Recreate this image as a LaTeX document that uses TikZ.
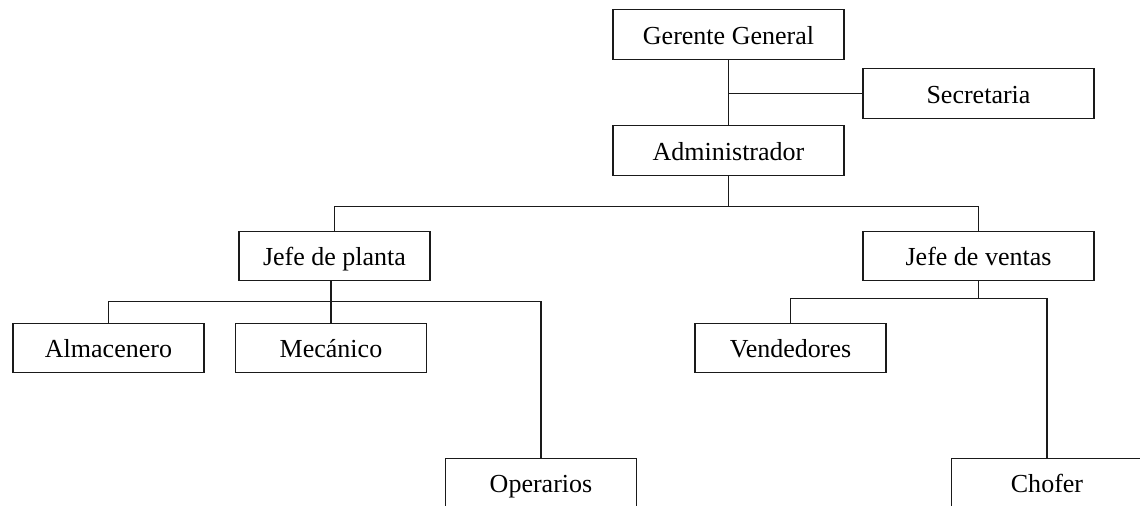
\documentclass[tikz,border=0pt]{standalone}
\usepackage{fontspec}
\setmainfont{Liberation Serif}
\usepackage{tikz}
\usepackage{xcolor}
\definecolor{linea}{HTML}{1A1A1A}

\begin{document}
\begin{tikzpicture}[x=0.02cm, y=-0.02cm, line width=0.7pt, draw=linea,
	puesto/.style={draw=linea, minimum height=0.99cm, inner sep=0pt,
		text height=13pt, text depth=2.1pt,
		font=\fontsize{14.8}{18}\selectfont},
	ancho/.style={puesto, minimum width=4.62cm},
	corto/.style={puesto, minimum width=3.82cm}]
	\useasboundingbox (0,0) rectangle (1140,505);
	\clip (0,0) rectangle (1140,505);
	% cargos
	\node[ancho] (gerente) at (728.5,34.5) {Gerente General};
	\node[ancho] (secretaria) at (978.5,93.5) {Secretaria};
	\node[ancho] (admin) at (728.5,150.5) {Administrador};
	\node[corto] (jplanta) at (334.5,256) {Jefe de planta};
	\node[ancho] (jventas) at (978.5,256) {Jefe de ventas};
	\node[corto] (almacen) at (108.5,348) {Almacenero};
	\node[corto] (mecanico) at (331,348) {Mec\'anico};
	\node[corto] (operarios) at (541,483) {Operarios};
	\node[corto] (vendedores) at (790.5,348) {Vendedores};
	\node[corto] (chofer) at (1047,483) {Chofer};
	% lineas
	\draw (gerente) -- (admin);
	\draw (gerente.south |- secretaria.west) -- (secretaria.west);
	\draw (admin.south) -- ++(0,31) coordinate (bar1);
	\draw (jplanta.north) |- (bar1) -| (jventas.north);
	\draw (jplanta.south -| mecanico.north) -- (mecanico.north);
	\path (mecanico.north) ++(0,-21) coordinate (bar2);
	\draw (almacen.north) |- (bar2) -| (operarios.north);
	\draw (jventas.south) -- ++(0,17) coordinate (bar3);
	\draw (vendedores.north) |- (bar3) -| (chofer.north);
\end{tikzpicture}
\end{document}
